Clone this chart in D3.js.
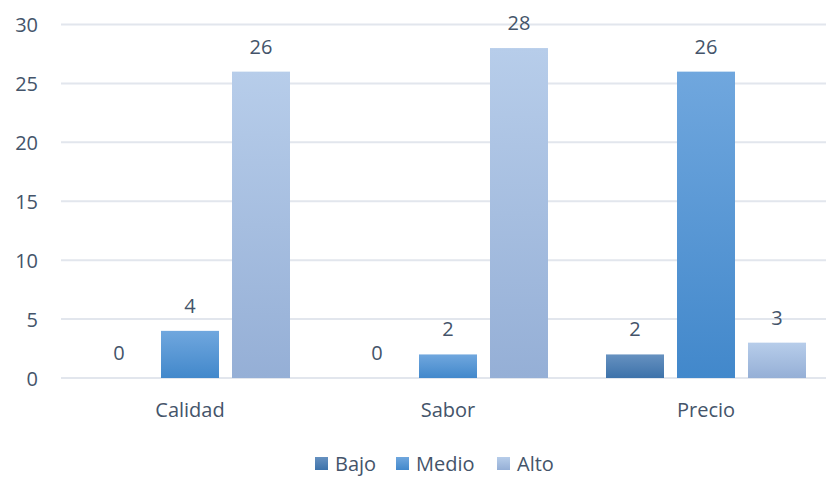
<!DOCTYPE html>
<html>
<head>
<meta charset="utf-8">
<script src="https://cdn.jsdelivr.net/npm/d3@7"></script>
<style>
  html, body { margin: 0; padding: 0; background: #fff; }
  svg { display: block; font-family: "Open Sans", sans-serif; }
</style>
</head>
<body>
<svg id="chart" width="826" height="478"></svg>
<script>
// Survey results per attribute
const categories = ["Calidad", "Sabor", "Precio"];
const seriesNames = ["Bajo", "Medio", "Alto"];
const bajo = [0, 0, 2];
const medio = [4, 2, 26];
const alto = [26, 28, 3];
const yTicks = [0, 5, 10, 15, 20, 25, 30];

const seriesValues = [bajo, medio, alto];
const gradients = [
  ["#6691c0", "#3d72aa"],
  ["#70a7de", "#4288cb"],
  ["#b7cdea", "#95afd6"]
];
const textColor = "#44546a";
const fontSize = "20px";

const svg = d3.select("#chart");
const W = 826;
const plotLeft = 61, plotTop = 24.5, plotBottom = 378, plotRight = 835;

const defs = svg.append("defs");
gradients.forEach((g, i) => {
  const lg = defs.append("linearGradient")
    .attr("id", "grad" + i)
    .attr("x1", 0).attr("y1", 0).attr("x2", 0).attr("y2", 1);
  lg.append("stop").attr("offset", "0%").attr("stop-color", g[0]);
  lg.append("stop").attr("offset", "100%").attr("stop-color", g[1]);
});

const x0 = d3.scaleBand().domain(categories).range([plotLeft, plotRight]).paddingInner(0).paddingOuter(0);
const groupInner = d3.scaleBand().domain(seriesNames).range([29, x0.bandwidth() - 29]).paddingInner(13 / 71).paddingOuter(0);
const y = d3.scaleLinear().domain([0, 30]).range([plotBottom, plotTop]);

// Gridlines
svg.append("g").selectAll("line").data(yTicks).join("line")
  .attr("x1", plotLeft).attr("x2", W)
  .attr("y1", d => y(d)).attr("y2", d => y(d))
  .attr("stroke", "#e2e6ed").attr("stroke-width", 2);

// Y axis labels
const yAxis = d3.axisLeft(y).tickValues(yTicks).tickSize(0).tickPadding(0);
const yg = svg.append("g").attr("transform", "translate(38,0)").call(yAxis);
yg.select(".domain").remove();
yg.selectAll("text").attr("fill", textColor).style("font-size", fontSize)
  .style("font-family", "'Open Sans', sans-serif").attr("dy", "0.35em");

// Bars with value labels
const groups = svg.append("g").selectAll("g").data(categories).join("g")
  .attr("transform", d => `translate(${x0(d)},0)`);

groups.each(function(cat, ci) {
  const g = d3.select(this);
  seriesNames.forEach((s, si) => {
    const v = seriesValues[si][ci];
    const bx = groupInner(s);
    if (v > 0) {
      g.append("rect")
        .attr("x", bx).attr("width", groupInner.bandwidth())
        .attr("y", y(v)).attr("height", y(0) - y(v))
        .attr("fill", `url(#grad${si})`);
    }
    g.append("text")
      .attr("x", bx + groupInner.bandwidth() / 2)
      .attr("y", y(v) - 18)
      .attr("text-anchor", "middle")
      .attr("fill", textColor)
      .style("font-size", fontSize)
      .text(v);
  });
});

// Category axis labels
const xAxis = d3.axisBottom(x0).tickSize(0).tickPadding(0);
const xg = svg.append("g").attr("transform", `translate(0,${plotBottom})`).call(xAxis);
xg.select(".domain").remove();
xg.selectAll("text").attr("fill", textColor).style("font-size", fontSize)
  .style("font-family", "'Open Sans', sans-serif").attr("y", 39).attr("dy", 0);

// Legend
const legendX = [315, 396, 497];
const legend = svg.append("g").selectAll("g").data(seriesNames).join("g")
  .attr("transform", (d, i) => `translate(${legendX[i]},457)`);
legend.append("rect").attr("width", 13).attr("height", 13)
  .attr("fill", (d, i) => `url(#grad${i})`);
legend.append("text").attr("x", 20).attr("y", 13.5)
  .attr("fill", textColor).style("font-size", fontSize).text(d => d);
</script>
</body>
</html>
